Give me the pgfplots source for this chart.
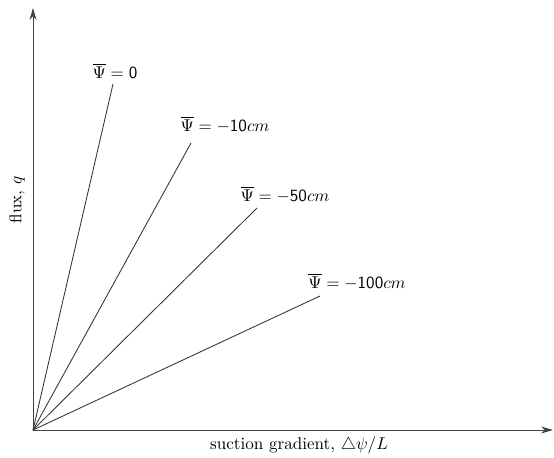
\documentclass[border=0pt]{standalone}
\usepackage{pgfplots}
\pgfplotsset{compat=1.18}
\usetikzlibrary{arrows.meta}
\begin{document}
\begin{tikzpicture}
\useasboundingbox (-33*0.585pt,-27*0.585pt) rectangle (521*0.585pt,430*0.585pt);
\begin{axis}[at={(0,0)}, anchor=south west,
  x=0.585pt, y=0.585pt,
  xmin=0, xmax=520, ymin=0, ymax=422,
  axis lines=left, xtick=\empty, ytick=\empty, clip=false,
  axis line style={black!75, line width=0.5pt, -{Stealth[length=7pt,width=4pt]}}]
\addplot[black!80, line width=0.5pt, no marks] coordinates {(0,0) (80,346)};
\addplot[black!80, line width=0.5pt, no marks] coordinates {(0,0) (158,287)};
\addplot[black!80, line width=0.5pt, no marks] coordinates {(0,0) (224,222)};
\addplot[black!80, line width=0.5pt, no marks] coordinates {(0,0) (287,134)};
\node at (axis cs:82,359) {$\overline{\Psi}=\mathsf{0}$};
\node at (axis cs:192,305) {$\overline{\Psi}=-\mathsf{10}cm$};
\node at (axis cs:252,235) {$\overline{\Psi}=-\mathsf{50}cm$};
\node at (axis cs:324,148) {$\overline{\Psi}=-\mathsf{100}cm$};
\node at (axis cs:266,-15) {suction gradient, $\triangle\psi/L$};
\node[rotate=90] at (axis cs:-16,230) {flux, $q$};
\end{axis}
\end{tikzpicture}
\end{document}
